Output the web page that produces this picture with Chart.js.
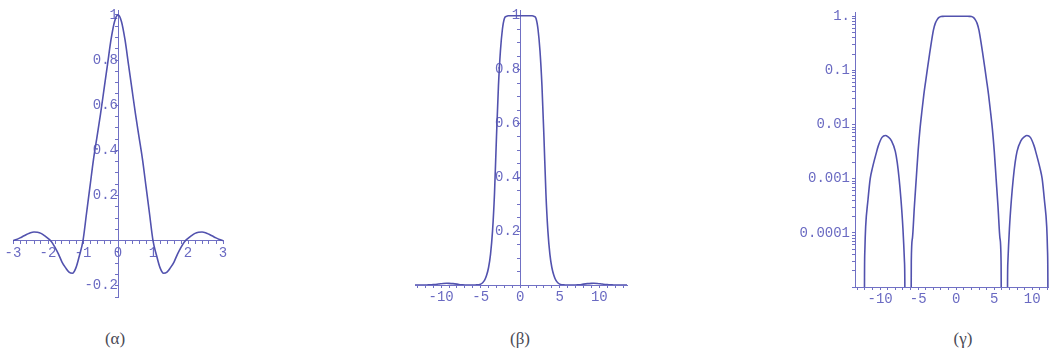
<!DOCTYPE html>
<html>
<head>
<meta charset="utf-8">
<script src="https://cdn.jsdelivr.net/npm/chart.js@4.4.1/dist/chart.umd.min.js"></script>
<style>
  html, body { margin: 0; padding: 0; background: #fff; }
  body { width: 1049px; height: 353px; position: relative; overflow: hidden; }
  .panel { position: absolute; top: 0; height: 310px; }
  .caption {
    position: absolute; top: 329px; width: 40px; margin-left: -20px;
    text-align: center; font-family: "Liberation Serif", "DejaVu Serif", serif;
    font-size: 17px; line-height: 20px; color: #4a4a55;
  }
</style>
</head>
<body>
<div class="panel" style="left:0;width:245px"><canvas id="impulseChart"></canvas></div>
<div class="panel" style="left:400px;width:245px"><canvas id="responseChart"></canvas></div>
<div class="panel" style="left:770px;width:279px"><canvas id="responseLogChart"></canvas></div>
<div class="caption" style="left:115px">(α)</div>
<div class="caption" style="left:520px">(β)</div>
<div class="caption" style="left:963px">(γ)</div>

<script>
// (α) impulse response, x in [-3, 3]
const impulseX = [
  -3, -2.9, -2.8, -2.7, -2.6, -2.5, -2.4, -2.3, -2.2, -2.1,
  -2, -1.9, -1.8, -1.7, -1.6, -1.5, -1.4, -1.3, -1.2, -1.1,
  -1, -0.9, -0.8, -0.7, -0.6, -0.5, -0.4, -0.3, -0.2, -0.1,
  0, 0.1, 0.2, 0.3, 0.4, 0.5, 0.6, 0.7, 0.8, 0.9,
  1, 1.1, 1.2, 1.3, 1.4, 1.5, 1.6, 1.7, 1.8, 1.9,
  2, 2.1, 2.2, 2.3, 2.4, 2.5, 2.6, 2.7, 2.8, 2.9, 3
];
const impulseY = [
  0, 0.005, 0.012, 0.02, 0.028, 0.035, 0.038, 0.037, 0.032, 0.022,
  0.01, -0.005, -0.03, -0.06, -0.095, -0.12, -0.14, -0.145, -0.12, -0.065,
  0, 0.12, 0.24, 0.36, 0.46, 0.56, 0.67, 0.78, 0.89, 0.97,
  1, 0.97, 0.89, 0.78, 0.67, 0.56, 0.46, 0.36, 0.24, 0.12,
  0, -0.065, -0.12, -0.145, -0.14, -0.12, -0.095, -0.06, -0.03, -0.005,
  0.01, 0.022, 0.032, 0.037, 0.038, 0.035, 0.028, 0.02, 0.012, 0.005, 0
];

// (β) and (γ) frequency response, same samples on linear and log axes
const responseX = [
  -13.5, -12.8, -12.1, -12.05, -12, -11.9, -11.6, -11.3, -11, -10.5, -10.25,
  -9.75, -9.3, -9, -8.5, -8, -7.75, -7.5, -7.25, -7, -6.8, -6.75,
  -6.7, -6.35, -6, -5.9, -5.75, -5.5, -5.25, -5, -4.75, -4.5,
  -4.25, -4, -3.75, -3.5, -3.25, -3, -2.75, -2.5, -2.25, -2,
  -1.75, -1.5, -1, -0.5, 0, 0.5, 1, 1.5, 1.75, 2,
  2.25, 2.5, 2.75, 3, 3.25, 3.5, 3.75, 4, 4.25, 4.5,
  4.75, 5, 5.25, 5.5, 5.75, 5.9, 6, 6.35, 6.7, 6.75, 6.8,
  7, 7.25, 7.5, 7.75, 8, 8.5, 9, 9.3, 9.75, 10.25,
  10.5, 11, 11.3, 11.6, 11.9, 12, 12.05, 12.1, 12.8, 13.5
];
const responseY = [
  1e-8, 1e-8, 1e-8, 0.000015, 0.00005, 0.00013, 0.0004, 0.001, 0.0016, 0.003, 0.004,
  0.0058, 0.0063, 0.006, 0.005, 0.0032, 0.002, 0.001, 0.0004, 0.00012, 0.00003, 0.000012,
  1e-8, 1e-8, 1e-8, 0.00003, 0.00008, 0.0003, 0.001, 0.0033, 0.0085, 0.018,
  0.036, 0.065, 0.115, 0.2, 0.34, 0.55, 0.74, 0.87, 0.95, 0.99,
  0.998, 1, 1, 1, 1, 1, 1, 1, 0.998, 0.99,
  0.95, 0.87, 0.74, 0.55, 0.34, 0.2, 0.115, 0.065, 0.036, 0.018,
  0.0085, 0.0033, 0.001, 0.0003, 0.00008, 0.00003, 1e-8, 1e-8, 1e-8, 0.000012, 0.00003,
  0.00012, 0.0004, 0.001, 0.002, 0.0032, 0.005, 0.006, 0.0063, 0.0058, 0.004,
  0.003, 0.0016, 0.001, 0.0004, 0.00013, 0.00005, 0.000015, 1e-8, 1e-8, 1e-8
];

// labelled ticks
const impulseXTicks = [-3, -2, -1, 0, 1, 2, 3];
const impulseYTicks = [-0.2, 0.2, 0.4, 0.6, 0.8, 1];
const responseXTicks = [-10, -5, 0, 5, 10];
const responseYTicks = [0.2, 0.4, 0.6, 0.8, 1];
const logYTicks = [0.0001, 0.001, 0.01, 0.1, 1];
const logYLabels = ["0.0001", "0.001", "0.01", "0.1", "1."];

const LINE = "#5252ae";
const AXIS = "#7070c4";
const TEXT = "#6a6ac2";
const tickFont = { family: "'Liberation Mono', 'DejaVu Sans Mono', monospace", size: 14 };

function points(xs, ys) {
  return xs.map((x, i) => ({ x, y: ys[i] }));
}

// majors plus evenly spaced minor ticks between lo and hi
function linearTicks(majors, step, lo, hi) {
  const list = [];
  for (let v = lo; v <= hi + 1e-9; v += step) list.push(Math.round(v * 1000) / 1000);
  majors.forEach(m => {
    if (!list.some(v => Math.abs(v - m) < 1e-6)) list.push(m);
  });
  return list.sort((a, b) => a - b).map(value => ({ value }));
}

function logTicks(lo, hi) {
  const list = [];
  for (let d = lo; d < hi; d *= 10) {
    for (let k = 1; k < 10; k++) list.push(k * d);
  }
  list.push(hi);
  return list.map(value => ({ value }));
}

function labelFor(majors, labels) {
  return (value, index, ticks) => {
    const v = ticks[index].value;
    const at = majors.findIndex(m => Math.abs(m - v) < Math.abs(m) * 1e-6 + 1e-9);
    if (at < 0) return "";
    return labels ? labels[at] : String(majors[at]);
  };
}

function axis(extra) {
  return Object.assign({
    border: { display: true, color: AXIS, width: 1 },
    grid: { drawOnChartArea: false, drawTicks: true, tickLength: 3, color: AXIS }
  }, extra);
}

function tickStyle(majors, labels, pad) {
  return {
    autoSkip: false, maxRotation: 0, color: TEXT, font: tickFont, padding: pad,
    callback: labelFor(majors, labels)
  };
}

function lineSet(data) {
  return {
    data,
    borderColor: LINE,
    borderWidth: 1.6,
    pointRadius: 0,
    fill: false,
    cubicInterpolationMode: "monotone"
  };
}

const baseOptions = {
  responsive: true,
  maintainAspectRatio: false,
  animation: false,
  plugins: { legend: { display: false }, tooltip: { enabled: false } }
};

// (α) axes cross at the origin
new Chart(document.getElementById("impulseChart"), {
  type: "line",
  data: { datasets: [lineSet(points(impulseX, impulseY))] },
  options: {
    ...baseOptions,
    layout: { padding: { left: 13, right: 22, top: 8.5, bottom: 13 } },
    scales: {
      x: axis({
        type: "linear", min: -3, max: 3, position: { y: 0 },
        afterFit: s => { s.height = 0; },
        afterBuildTicks: s => { s.ticks = linearTicks(impulseXTicks, 0.2, -3, 3); },
        ticks: tickStyle(impulseXTicks, null, 1)
      }),
      y: axis({
        type: "linear", min: -0.25, max: 1.02, position: { x: 0 },
        afterFit: s => { s.width = 0; },
        afterBuildTicks: s => { s.ticks = linearTicks(impulseYTicks, 0.05, -0.25, 1); },
        ticks: tickStyle(impulseYTicks, null, 2)
      })
    }
  }
});

// (β) y axis through x = 0
new Chart(document.getElementById("responseChart"), {
  type: "line",
  data: { datasets: [lineSet(points(responseX, responseY))] },
  options: {
    ...baseOptions,
    layout: { padding: { left: 15, right: 18, top: 9.6, bottom: 0 } },
    scales: {
      x: axis({
        type: "linear", min: -13.3, max: 13.5, position: "bottom",
        afterFit: s => { s.height = 25; },
        afterBuildTicks: s => { s.ticks = linearTicks(responseXTicks, 1, -13, 13); },
        ticks: tickStyle(responseXTicks, null, 1)
      }),
      y: axis({
        type: "linear", min: 0, max: 1.02, position: { x: 0 },
        afterFit: s => { s.width = 0; },
        afterBuildTicks: s => { s.ticks = linearTicks(responseYTicks, 0.05, 0, 1); },
        ticks: tickStyle(responseYTicks, null, 2)
      })
    }
  }
});

// (γ) same response on a log scale
new Chart(document.getElementById("responseLogChart"), {
  type: "line",
  data: { datasets: [lineSet(points(responseX, responseY))] },
  options: {
    ...baseOptions,
    layout: { padding: { left: 0, right: 0, top: 12, bottom: 0 } },
    scales: {
      x: axis({
        type: "linear", min: -13.3, max: 12.2, position: "bottom",
        afterFit: s => { s.height = 23; },
        afterBuildTicks: s => { s.ticks = linearTicks(responseXTicks, 1, -13, 12); },
        ticks: tickStyle(responseXTicks, null, 1)
      }),
      y: axis({
        type: "logarithmic", min: 1e-5, max: 1.2, position: "left",
        afterFit: s => { s.width = 85; },
        afterBuildTicks: s => { s.ticks = logTicks(1e-5, 1); },
        ticks: tickStyle(logYTicks, logYLabels, 2)
      })
    }
  }
});
</script>
</body>
</html>
